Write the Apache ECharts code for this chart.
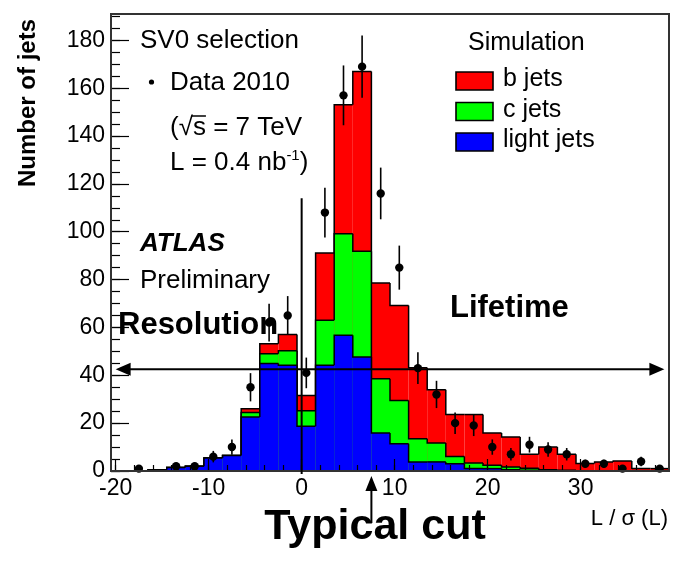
<!DOCTYPE html>
<html>
<head>
<meta charset="utf-8">
<script src="https://cdn.jsdelivr.net/npm/echarts@6/dist/echarts.min.js"></script>
<style>
  html, body { margin: 0; padding: 0; background: #fff; }
  #chart { width: 673px; height: 570px; }
</style>
</head>
<body>
<div id="chart"></div>
<script>
// Bin centres of the L/sigma(L) histogram (bin width 2)
const binCenters = [-19.5, -17.5, -15.5, -13.5, -11.5, -9.5, -7.5, -5.5, -3.5, -1.5,
                    0.5, 2.5, 4.5, 6.5, 8.5, 10.5, 12.5, 14.5, 16.5, 18.5,
                    20.5, 22.5, 24.5, 26.5, 28.5, 30.5, 32.5, 34.5, 36.5, 38.5];
const BIN_WIDTH = 2;

// Simulated jet flavour contributions per bin
const lightJets = [0, 0, 0.5, 1.5, 2, 5.4, 6.5, 22.6, 44.9, 44.2,
                   18.7, 44.2, 56.7, 47.6, 15.9, 11.4, 3.8, 3.8, 3, 1,
                   1, 0.5, 0.3, 0, 0, 0, 0, 0, 0, 0];
const cJets     = [0, 0, 0, 0, 0, 0, 0, 1.8, 4.1, 6.1,
                   6.5, 18.8, 42.5, 44.2, 22.7, 18.1, 9.7, 7.9, 3.1, 2.3,
                   1.4, 1.2, 0.8, 0.5, 0.3, 0, 0, 0, 0, 0];
const bJets     = [0, 0, 0, 0, 0, 0, 0, 1.6, 4.2, 6.8,
                   6.4, 28.1, 53.9, 75.2, 40, 39.7, 29.7, 22.3, 17.5, 20.3,
                   13.5, 12.5, 5.9, 9.5, 6.7, 3.1, 3.8, 4.2, 1, 1];

// Data 2010 counts (null = empty bin) and their statistical errors
const dataCounts = [null, 1, null, 2, 2, 6, 10, 35, 62, 65,
                    41, 108, 157, 169, 116, 85, 43, 32, 20, 19,
                    10, 7, 11, 9, 7, 3, 3, 1, 4, 1];
const dataErrors = [0, 1, 0, 1.4, 1.4, 2.4, 3.2, 5.9, 7.9, 8.1,
                    6.4, 10.4, 12.5, 13, 10.8, 9.2, 6.6, 5.7, 4.5, 4.4,
                    3.2, 2.6, 3.3, 3, 2.6, 1.7, 1.7, 1, 2, 1];

const xMajorTicks = [-20, -10, 0, 10, 20, 30];
const yMajorTicks = [0, 20, 40, 60, 80, 100, 120, 140, 160, 180];
const X_MIN = -20.5, X_MAX = 39.5, Y_MIN = 0, Y_MAX = 191;

const xMinorTicks = [];
for (let v = -20; v <= 38; v += 2) xMinorTicks.push(v);
const yMinorTicks = [];
for (let v = 0; v <= 190; v += 5) yMinorTicks.push(v);

const FONT = '"Liberation Sans", Arial, Helvetica, sans-serif';

// Cumulative stack: b on top of c on top of light
const lightTop = lightJets.slice();
const cTop = lightJets.map((v, i) => v + cJets[i]);
const bTop = cTop.map((v, i) => v + bJets[i]);

function stepLayer(name, color, tops) {
  return {
    name: name,
    type: 'custom',
    xAxisIndex: 0,
    yAxisIndex: 0,
    z: 2,
    data: binCenters.map((c, i) => [c, tops[i], i > 0 ? tops[i - 1] : 0]),
    renderItem: function (params, api) {
      const c = api.value(0), v = api.value(1), prev = api.value(2);
      const h = BIN_WIDTH / 2;
      const tl = api.coord([c - h, v]);
      const br = api.coord([c + h, 0]);
      const pv = api.coord([c - h, prev]);
      return {
        type: 'group',
        children: [
          { type: 'rect', shape: { x: tl[0], y: tl[1], width: br[0] - tl[0], height: br[1] - tl[1] },
            style: { fill: color } },
          { type: 'polyline', shape: { points: [[pv[0], pv[1]], [tl[0], tl[1]], [br[0], tl[1]]] },
            style: { stroke: '#000', lineWidth: 1.5, fill: null } }
        ]
      };
    }
  };
}

const dataSeries = {
  name: 'Data 2010',
  type: 'custom',
  xAxisIndex: 0,
  yAxisIndex: 0,
  z: 4,
  data: binCenters.map((c, i) => [c, dataCounts[i], dataErrors[i]]).filter(d => d[1] !== null),
  renderItem: function (params, api) {
    const c = api.value(0), v = api.value(1), e = api.value(2);
    const p = api.coord([c, v]);
    const lo = api.coord([c, Math.max(0, v - e)]);
    const hi = api.coord([c, v + e]);
    return {
      type: 'group',
      children: [
        { type: 'line', shape: { x1: p[0], y1: lo[1], x2: p[0], y2: hi[1] },
          style: { stroke: '#000', lineWidth: 1.6 } },
        { type: 'circle', shape: { cx: p[0], cy: p[1], r: 4.2 }, style: { fill: '#000' } }
      ]
    };
  }
};

const option = {
  animation: false,
  backgroundColor: '#fff',
  grid: { left: 111, right: 4, top: 14, bottom: 99, show: false },
  xAxis: [
    {
      type: 'value', min: X_MIN, max: X_MAX, position: 'bottom', z: 10,
      axisLine: { show: true, onZero: false, lineStyle: { color: '#333', width: 2 } },
      splitLine: { show: false },
      axisTick: { show: true, inside: true, length: 12, customValues: xMajorTicks,
                  lineStyle: { color: '#000', width: 1.2 } },
      axisLabel: { show: true, customValues: xMajorTicks, margin: 6,
                   fontFamily: FONT, fontSize: 23, color: '#000' }
    },
    {
      type: 'value', min: X_MIN, max: X_MAX, position: 'bottom', z: 10,
      axisLine: { show: false, onZero: false },
      splitLine: { show: false },
      axisTick: { show: true, inside: true, length: 6, customValues: xMinorTicks,
                  lineStyle: { color: '#000', width: 1.2 } },
      axisLabel: { show: false }
    }
  ],
  yAxis: [
    {
      type: 'value', min: Y_MIN, max: Y_MAX, position: 'left', z: 10,
      axisLine: { show: true, onZero: false, lineStyle: { color: '#333', width: 2 } },
      splitLine: { show: false },
      axisTick: { show: true, inside: true, length: 18, customValues: yMajorTicks,
                  lineStyle: { color: '#000', width: 1.2 } },
      axisLabel: { show: true, customValues: yMajorTicks, margin: 6,
                   fontFamily: FONT, fontSize: 23, color: '#000' }
    },
    {
      type: 'value', min: Y_MIN, max: Y_MAX, position: 'left', z: 10,
      axisLine: { show: false, onZero: false },
      splitLine: { show: false },
      axisTick: { show: true, inside: true, length: 9, customValues: yMinorTicks,
                  lineStyle: { color: '#000', width: 1.2 } },
      axisLabel: { show: false }
    }
  ],
  series: [
    stepLayer('b jets', '#ff0000', bTop),
    stepLayer('c jets', '#00ff00', cTop),
    stepLayer('light jets', '#0000ff', lightTop),
    dataSeries
  ]
};

const chart = echarts.init(document.getElementById('chart'), null, { renderer: 'canvas' });
chart.setOption(option);

// ---- annotations ----
const px = (x, y) => chart.convertToPixel({ xAxisIndex: 0, yAxisIndex: 0 }, [x, y]);
const mctx = document.createElement('canvas').getContext('2d');
function textWidth(t, font) { mctx.font = font; return mctx.measureText(t).width; }

function txt(text, x, baseline, size, weight, style, align) {
  return {
    type: 'text', z: 20,
    style: {
      text: text, x: x, y: baseline - 0.36 * size,
      fill: '#000', align: align || 'left', verticalAlign: 'middle',
      font: (style || 'normal') + ' ' + (weight || 'normal') + ' ' + size + 'px ' + FONT
    }
  };
}

function arrowHead(tip, dir, len, half) {
  // dir: unit vector pointing toward the tip
  const bx = tip[0] - dir[0] * len, by = tip[1] - dir[1] * len;
  const nx = -dir[1], ny = dir[0];
  return {
    type: 'polygon', z: 20,
    shape: { points: [[tip[0], tip[1]], [bx + nx * half, by + ny * half], [bx - nx * half, by - ny * half]] },
    style: { fill: '#000' }
  };
}

const g = [];
// plot frame
const f0 = px(X_MIN, Y_MAX), f1 = px(X_MAX, Y_MIN);
g.push({ type: 'rect', z: 15, shape: { x: f0[0], y: f0[1], width: f1[0] - f0[0], height: f1[1] - f0[1] },
         style: { fill: null, stroke: '#333', lineWidth: 2 } });

// zero line
const z0 = px(0, 114), z1 = px(0, 0);
g.push({ type: 'line', z: 18, shape: { x1: z0[0], y1: z0[1], x2: z1[0], y2: z1[1] + 3 },
         style: { stroke: '#000', lineWidth: 2 } });

// resolution / lifetime double arrow
const a0 = px(-20, 42.5), a1 = px(39, 42.5);
g.push({ type: 'line', z: 18, shape: { x1: a0[0] + 5, y1: a0[1], x2: a1[0] - 5, y2: a1[1] },
         style: { stroke: '#000', lineWidth: 2 } });
g.push(arrowHead(a0, [-1, 0], 15, 6.5));
g.push(arrowHead(a1, [1, 0], 15, 6.5));

// typical cut arrow below the axis
const cx = px(7.5, 0)[0];
g.push({ type: 'line', z: 18, shape: { x1: cx, y1: 523, x2: cx, y2: 485 }, style: { stroke: '#000', lineWidth: 2 } });
g.push(arrowHead([cx, 476], [0, -1], 15, 6));

// texts
g.push(txt('SV0 selection', 140, 50, 26));
g.push({ type: 'circle', z: 20, shape: { cx: 151.5, cy: 82, r: 2.6 }, style: { fill: '#000' } });
g.push(txt('Data 2010', 170, 92, 26));
g.push(txt('(\u221As = 7 TeV', 170, 137, 26));
// overline of the square root
{
  const f = 'normal normal 26px ' + FONT;
  const w0 = textWidth('(\u221A', f), w1 = textWidth('(\u221As', f);
  g.push({ type: 'line', z: 20, shape: { x1: 170 + w0 - 1, y1: 116, x2: 170 + w1, y2: 116 },
           style: { stroke: '#000', lineWidth: 1.5 } });
}
{
  const f = 'normal normal 26px ' + FONT;
  const fs = 'normal normal 15px ' + FONT;
  const w0 = textWidth('L = 0.4 nb', f);
  const w1 = textWidth('-1', fs);
  g.push(txt('L = 0.4 nb', 170, 172, 26));
  g.push(txt('-1', 170 + w0, 161, 15));
  g.push(txt(')', 170 + w0 + w1, 172, 26));
}
g.push(txt('ATLAS', 140, 253, 26, 'bold', 'italic'));
g.push(txt('Preliminary', 140, 290, 26));
g.push(txt('Resolution', 118, 337, 31, 'bold'));
g.push(txt('Lifetime', 450, 320, 31, 'bold'));

// legend
g.push(txt('Simulation', 468, 52, 25));
const legendItems = [['b jets', '#ff0000'], ['c jets', '#00ff00'], ['light jets', '#0000ff']];
legendItems.forEach((it, i) => {
  const top = 72 + i * 30.5;
  g.push({ type: 'rect', z: 20, shape: { x: 456, y: top, width: 37, height: 18 },
           style: { fill: it[1], stroke: '#000', lineWidth: 1.6 } });
  g.push(txt(it[0], 503, top + 16.5, 25));
});

// axis titles
g.push(txt('L / \u03C3 (L)', 668, 527, 22, 'normal', 'normal', 'right'));
g.push({
  type: 'text', z: 20, rotation: Math.PI / 2, x: 28, y: 103,
  style: { text: 'Number of jets', x: 0, y: 0, align: 'center', verticalAlign: 'middle',
           fill: '#000', font: 'normal bold 24px ' + FONT }
});
g.push(txt('Typical cut', 375, 543, 43, 'bold', 'normal', 'center'));

chart.setOption({ graphic: g });
</script>
</body>
</html>
